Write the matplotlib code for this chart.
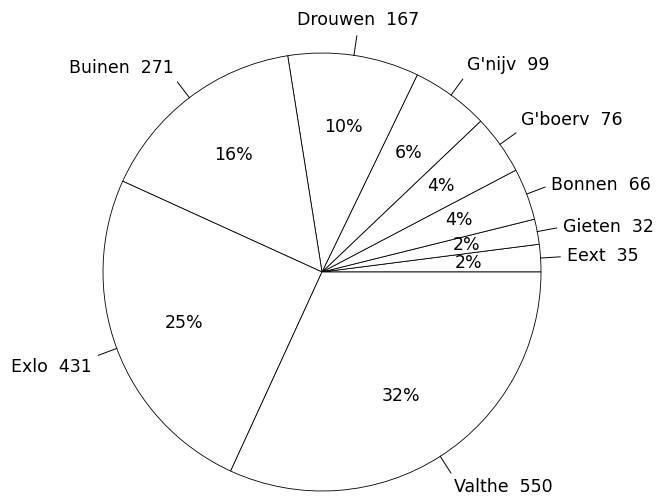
import numpy as np
import matplotlib
matplotlib.use('Agg')
import matplotlib.pyplot as plt

plt.rcParams['font.family'] = ['DejaVu Sans']

# villages and counts, counter-clockwise from east
villages = ["Eext", "Gieten", "Bonnen", "G'boerv", "G'nijv", "Drouwen", "Buinen", "Exlo", "Valthe"]
counts = [35, 32, 66, 76, 99, 167, 271, 431, 550]

fig = plt.figure(figsize=(6.59, 4.96), dpi=100)
ax = fig.add_axes([0, 0, 1, 1])

cx, cy, r = 322, 224, 219

wedges, texts, autotexts = ax.pie(
    counts, center=(cx, cy), radius=r, startangle=0, counterclock=True,
    colors=['white'] * len(counts),
    wedgeprops=dict(edgecolor='black', linewidth=0.6),
    autopct=lambda p: '%d%%' % round(p), pctdistance=0.67,
    textprops=dict(fontsize=12.5),
)

ax.set_xlim(0, 659)
ax.set_ylim(0, 496)
ax.set_aspect('equal')
ax.axis('off')

total = sum(counts)
cum = np.cumsum([0] + counts)
for i, name in enumerate(villages):
    mid = np.deg2rad((cum[i] + counts[i] / 2) / total * 360)
    c, s = np.cos(mid), np.sin(mid)
    ax.plot([cx + r * c, cx + 1.09 * r * c], [cy + r * s, cy + 1.09 * r * s],
            color='black', linewidth=0.7)
    ha = 'left' if c > 0.3 else ('right' if c < -0.3 else 'center')
    va = 'bottom' if s > 0.5 else ('top' if s < -0.3 else 'center')
    ax.text(cx + 1.12 * r * c, cy + 1.12 * r * s, f"{name}  {counts[i]}",
            ha=ha, va=va, fontsize=12.5)

fig.savefig('out.png', dpi=100)
